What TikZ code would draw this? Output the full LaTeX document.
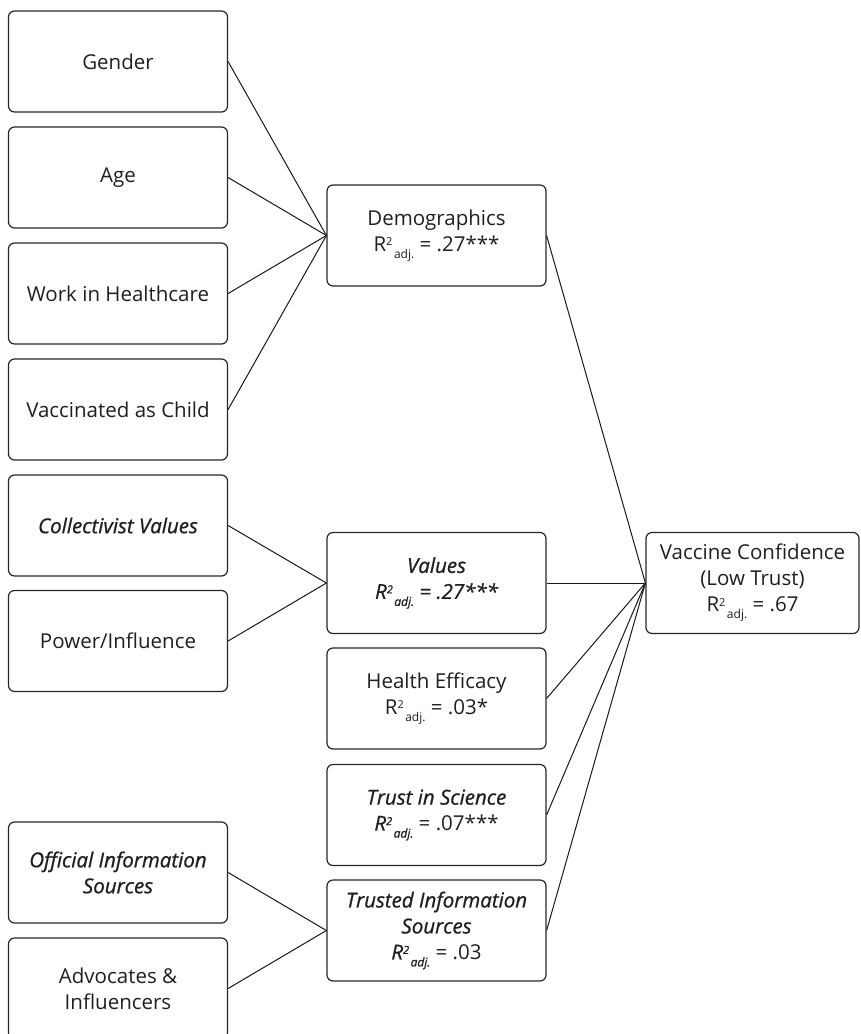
\documentclass[tikz,border=0pt]{standalone}
\usepackage{fontspec}
\setmainfont{Open Sans}
\newfontfamily\itmedfam{Open Sans}[FakeBold=0.9,ItalicFeatures={FakeBold=0.9}]
\newcommand{\emit}{\itmedfam\itshape}
\newcommand{\Rsq}{R\raisebox{5.5pt}{\fontsize{11}{11}\selectfont 2}\hspace{1.5pt}\raisebox{-7pt}{\fontsize{12}{12}\selectfont adj.}}
\begin{document}
\begin{tikzpicture}[x=1pt,y=-1pt,
  box/.style={draw=black!85, line width=1.2pt, rounded corners=6pt, rectangle,
    minimum width=219pt, minimum height=101pt, inner sep=0pt, align=center,
    font=\fontsize{20.5}{26}\selectfont, text=black!88},
  link/.style={draw=black!90, line width=1pt}]
\useasboundingbox (0,0) rectangle (860,1034);
\clip (0,0) rectangle (860,1034);
% left column
\node[box] (gender) at (118,61.5) {Gender};
\node[box] (age) at (118,177.5) {Age};
\node[box] (work) at (118,293.5) {Work in Healthcare};
\node[box] (vacc) at (118,409.5) {Vaccinated as Child};
\node[box] (coll) at (118,525.5) {\emit Collectivist Values};
\node[box] (power) at (118,641) {Power/Influence};
\node[box] (official) at (118,872.5) {\emit Official Information\\\emit Sources};
\node[box] (advoc) at (118,988.5) {Advocates \&\\Influencers};
% middle column
\node[box] (demo) at (436.5,235.5) {Demographics\\\Rsq{} = .27***};
\node[box] (values) at (436.5,583) {\emit Values\\\emit \Rsq{} = .27***};
\node[box] (health) at (436.5,698.5) {Health Efficacy\\\Rsq{} = .03*};
\node[box] (trust) at (436.5,815) {\emit Trust in Science\\{\emit \Rsq{}} = .07***};
\node[box] (trusted) at (436.5,930.5) {\emit Trusted Information\\\emit Sources\\{\emit \Rsq{}} = .03};
% outcome
\node[box, minimum width=213pt] (vc) at (752.5,583) {Vaccine Confidence\\(Low Trust)\\\Rsq{} = .67};
% connectors
\foreach \s in {gender,age,work,vacc} \draw[link] (\s.east) -- (demo.west);
\foreach \s in {coll,power} \draw[link] (\s.east) -- (values.west);
\foreach \s in {official,advoc} \draw[link] (\s.east) -- (trusted.west);
\foreach \s in {demo,values,health,trust,trusted} \draw[link] (\s.east) -- (vc.west);
\end{tikzpicture}
\end{document}
